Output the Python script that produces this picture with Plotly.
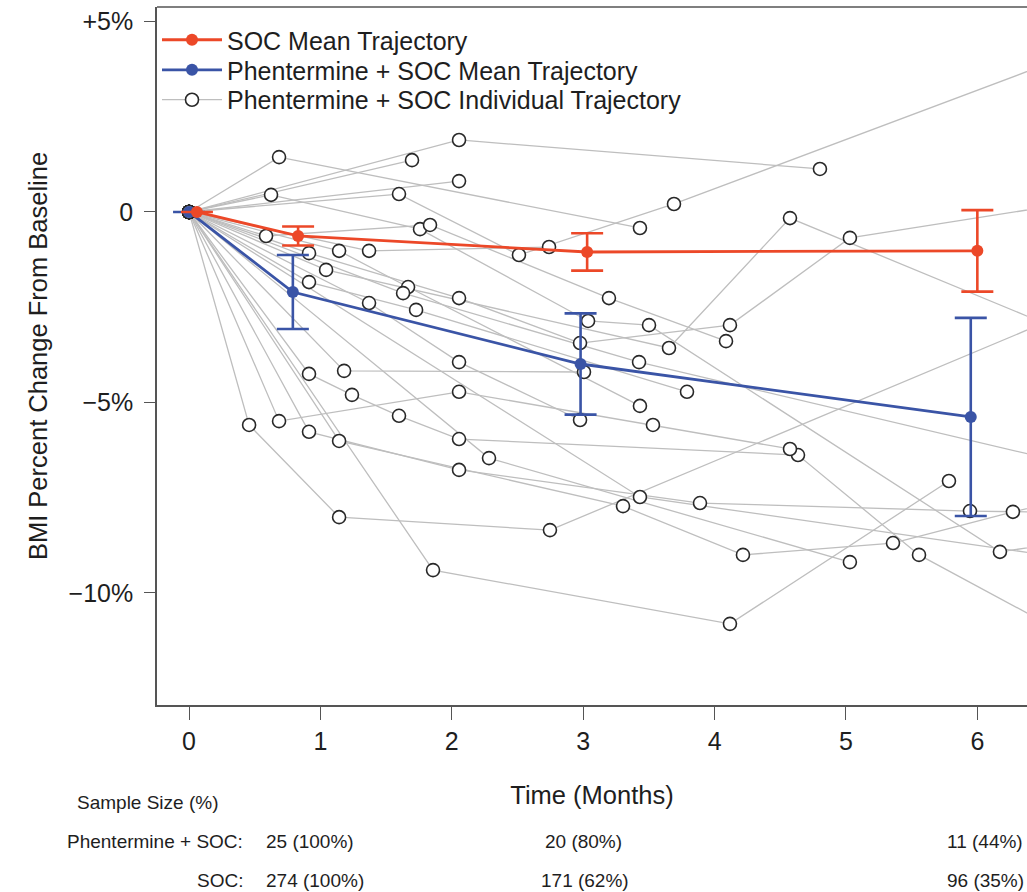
import plotly.graph_objects as go

# ---------------- data ----------------
soc_t = [0.06, 0.83, 3.03, 6.00]
soc_mean = [0.0, -0.63, -1.05, -1.02]
soc_err = [0.0, 0.25, 0.49, 1.07]

phen_t = [0.0, 0.79, 2.98, 5.95]
phen_mean = [0.0, -2.10, -3.99, -5.38]
phen_err = [0.0, 0.97, 1.33, 2.60]

# individual trajectories (months, % change); last point may lie beyond the visible window
ind_t = [
    [0, 0.685, 3.432],
    [0, 2.055, 4.802],
    [0, 1.697],
    [0, 0.624, 1.758, 3.037, 3.501, 6.172, 7.0],
    [0, 1.598, 2.511, 3.691, 7.0],
    [0, 2.055],
    [0, 1.370, 2.740],
    [0, 0.586, 1.834, 3.196, 4.087],
    [0, 0.913, 2.055, 2.976, 4.117, 5.030, 7.0],
    [0, 1.142, 1.667, 3.432],
    [0, 1.043, 3.653, 4.574, 7.0],
    [0, 0.913, 1.728, 3.790],
    [0, 1.629, 3.425, 7.0],
    [0, 1.370, 2.055, 2.976],
    [0, 2.283, 5.030],
    [0, 0.913, 1.240, 1.598, 2.055, 4.635, 5.556, 7.0],
    [0, 1.180, 3.006],
    [0, 0.457, 1.142, 2.747, 7.0],
    [0, 0.685, 2.055, 3.531, 4.574],
    [0, 0.913, 2.055, 3.889, 5.944, 7.0],
    [0, 1.142, 3.303, 4.216, 5.358, 6.271, 7.0],
    [0, 1.857, 4.117, 5.784],
    [0, 3.432, 7.0],
]
ind_v = [
    [0, 1.44, -0.42],
    [0, 1.89, 1.13],
    [0, 1.36],
    [0, 0.45, -0.45, -2.86, -2.97, -8.92, -8.50],
    [0, 0.47, -1.13, 0.21, 4.49],
    [0, 0.81],
    [0, -1.02, -0.92],
    [0, -0.63, -0.34, -2.26, -3.39],
    [0, -1.08, -2.26, -3.44, -2.97, -0.68, 0.39],
    [0, -1.02, -1.97, -5.09],
    [0, -1.52, -3.57, -0.16, -3.62],
    [0, -1.84, -2.57, -4.72],
    [0, -2.13, -3.94, -6.85],
    [0, -2.39, -3.94, -5.46],
    [0, -6.46, -9.19],
    [0, -4.25, -4.80, -5.35, -5.96, -6.38, -9.00, -11.68],
    [0, -4.17, -4.20],
    [0, -5.59, -8.01, -8.35, -2.20],
    [0, -5.49, -4.72, -5.59, -6.22],
    [0, -5.77, -6.77, -7.64, -7.85, -7.90],
    [0, -6.01, -7.72, -9.00, -8.69, -7.87, -7.30],
    [0, -9.40, -10.81, -7.06],
    [0, -7.48, -9.24],
]

x_ticks = [0, 1, 2, 3, 4, 5, 6]
y_ticks = [5, 0, -5, -10]
y_tick_labels = ["+5%", "0", "\u22125%", "\u221210%"]

size_times = [0.92, 3.0, 6.06]
phen_sizes = ["25 (100%)", "20 (80%)", "11 (44%)"]
soc_size_times = [0.96, 3.01, 6.06]
soc_sizes = ["274 (100%)", "171 (62%)", "96 (35%)"]

# ---------------- figure ----------------
RED = "rgb(236,72,40)"
BLUE = "rgb(58,84,166)"
GREY = "rgb(190,190,190)"
AXC = "rgb(85,85,85)"
FONT = "Arial, Liberation Sans, Helvetica, sans-serif"

xs, ys = [], []
for t, v in zip(ind_t, ind_v):
    xs += t + [None]
    ys += v + [None]

fig = go.Figure()
fig.add_trace(go.Scatter(
    x=xs, y=ys, mode="lines+markers", connectgaps=False,
    name="Phentermine + SOC Individual Trajectory", legend="legend3",
    line=dict(color=GREY, width=1.3),
    marker=dict(symbol="circle", size=13, color="white",
                line=dict(color="rgb(40,40,40)", width=1.6)),
))
fig.add_trace(go.Scatter(
    x=phen_t, y=phen_mean, mode="lines+markers",
    name="Phentermine + SOC Mean Trajectory", legend="legend2",
    line=dict(color=BLUE, width=2.8),
    marker=dict(size=12, color=BLUE),
    error_y=dict(type="data", array=phen_err, color=BLUE, thickness=2.6, width=16),
))
fig.add_trace(go.Scatter(
    x=soc_t, y=soc_mean, mode="lines+markers",
    name="SOC Mean Trajectory", legend="legend",
    line=dict(color=RED, width=2.8),
    marker=dict(size=12, color=RED),
    error_y=dict(type="data", array=soc_err, color=RED, thickness=2.6, width=16),
))

# top border of the plot box
fig.add_shape(type="line", xref="paper", yref="paper", x0=0, x1=1, y0=1, y1=1,
              line=dict(color=AXC, width=1.6))

BFS = 19
annos = [
    dict(text="Sample Size (%)", x=-0.0103, y=-0.139, xref="paper", yref="paper",
         xanchor="center", yanchor="middle", showarrow=False, font=dict(size=BFS)),
    dict(text="Phentermine + SOC:", x=0.101, y=-0.196, xref="paper", yref="paper",
         xanchor="right", yanchor="middle", showarrow=False, font=dict(size=BFS)),
    dict(text="SOC:", x=0.101, y=-0.251, xref="paper", yref="paper",
         xanchor="right", yanchor="middle", showarrow=False, font=dict(size=BFS)),
]
for t, s in zip(size_times, phen_sizes):
    annos.append(dict(text=s, x=t, y=-0.196, xref="x", yref="paper", xanchor="center",
                      yanchor="middle", showarrow=False, font=dict(size=BFS)))
for t, s in zip(soc_size_times, soc_sizes):
    annos.append(dict(text=s, x=t, y=-0.251, xref="x", yref="paper", xanchor="center",
                      yanchor="middle", showarrow=False, font=dict(size=BFS)))

leg_common = dict(x=0.0, xanchor="left", yanchor="middle", bgcolor="rgba(0,0,0,0)",
                  font=dict(size=25), itemwidth=60, borderwidth=0)

fig.update_layout(
    width=1027, height=892,
    margin=dict(l=157, r=0, t=7, b=187),
    paper_bgcolor="white", plot_bgcolor="white",
    font=dict(family=FONT, color="rgb(30,30,30)"),
    showlegend=True,
    legend=dict(y=0.9527, **leg_common),
    legend2=dict(y=0.9097, **leg_common),
    legend3=dict(y=0.8668, **leg_common),
    annotations=annos,
    xaxis=dict(range=[-0.244, 6.378], tickvals=x_ticks, showgrid=False, zeroline=False,
               showline=True, linecolor=AXC, linewidth=1.6,
               ticks="outside", ticklen=13, tickwidth=1.4, tickcolor=AXC,
               tickfont=dict(size=25),
               title=dict(text="Time (Months)", font=dict(size=25.5), standoff=32)),
    yaxis=dict(range=[-12.94, 5.38], tickvals=y_ticks, ticktext=y_tick_labels,
               showgrid=False, zeroline=False,
               showline=True, linecolor=AXC, linewidth=1.6,
               ticks="outside", ticklen=11, tickwidth=1.4, tickcolor=AXC,
               tickfont=dict(size=25), ticklabelstandoff=6,
               title=dict(text="BMI Percent Change From Baseline", font=dict(size=25.5),
                          standoff=14)),
)

fig.write_html("out.html", config={"displayModeBar": False},
               post_script="document.body.style.margin='0px';")
